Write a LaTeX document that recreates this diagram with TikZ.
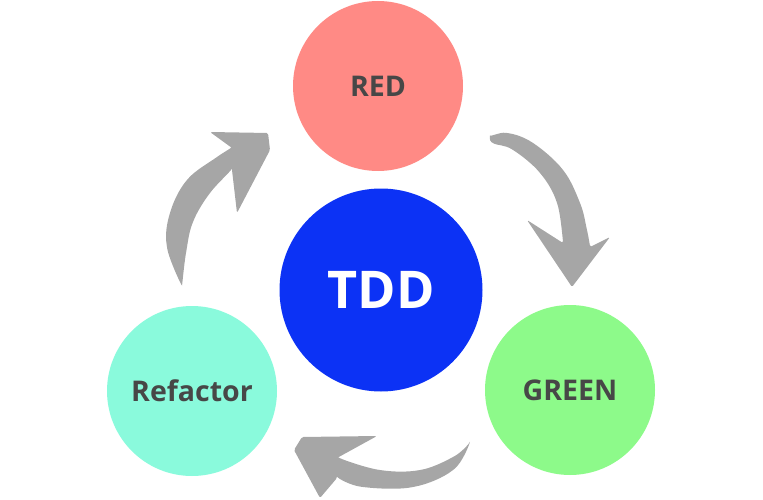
\documentclass[tikz,border=0pt]{standalone}
\usepackage{fontspec}
\setmainfont{Open Sans}
\definecolor{redc}{HTML}{FF8A85}
\definecolor{tddc}{HTML}{0C32F5}
\definecolor{greenc}{HTML}{8DFA8A}
\definecolor{refc}{HTML}{8AFADC}
\definecolor{labc}{HTML}{474747}
\definecolor{arrc}{HTML}{A6A6A6}
\begin{document}
\begin{tikzpicture}[x=1pt,y=-1pt,
  phase/.style={circle,inner sep=0pt,minimum size=170pt,text=labc,font=\bfseries\fontsize{28.5}{32}\selectfont},
  swoosh/.style={fill=arrc,draw=none,rounded corners=1.5pt}]
\useasboundingbox (0,0) rectangle (763,500);
\node[phase,fill=redc] (red) at (378,86) {RED};
\node[phase,fill=greenc] (green) at (570,390) {GREEN};
\node[phase,fill=refc] (ref) at (192,391) {Refactor};
\node[circle,inner sep=0pt,minimum size=203pt,fill=tddc,text=white,font=\bfseries\fontsize{52}{60}\selectfont] (tdd) at (381,290) {TDD};
% left arrow: Refactor -> RED
\fill[swoosh] (182,287) -- plot[smooth,tension=0.6] coordinates {(182,287) (167,247) (170,213) (187,180) (217,157) (232,148)}
  -- (210,132) -- (268,133) -- (270,150) -- (237,213) -- (232,170)
  -- plot[smooth,tension=0.6] coordinates {(232,170) (210,193) (193,222) (186,253) (182,287)} -- cycle;
% right arrow: RED -> GREEN
\fill[swoosh] (490,137) -- plot[smooth,tension=0.6] coordinates {(490,137) (507,133) (533,143) (563,170) (580,203) (587,230) (590,247)}
  -- (610,237) -- (572,287) -- (527,220) -- (563,243)
  -- plot[smooth,tension=0.6] coordinates {(563,243) (557,203) (540,173) (513,150) (493,143) (490,137)} -- cycle;
% bottom arrow: GREEN -> Refactor
\fill[swoosh] (470,443) -- plot[smooth,tension=0.6] coordinates {(470,443) (453,470) (413,487) (363,487) (337,478)}
  -- (320,498) -- (294,450) -- (302,437) -- (377,436) -- (337,458)
  -- plot[smooth,tension=0.6] coordinates {(337,458) (380,470) (420,470) (453,457) (470,443)} -- cycle;
\end{tikzpicture}
\end{document}
